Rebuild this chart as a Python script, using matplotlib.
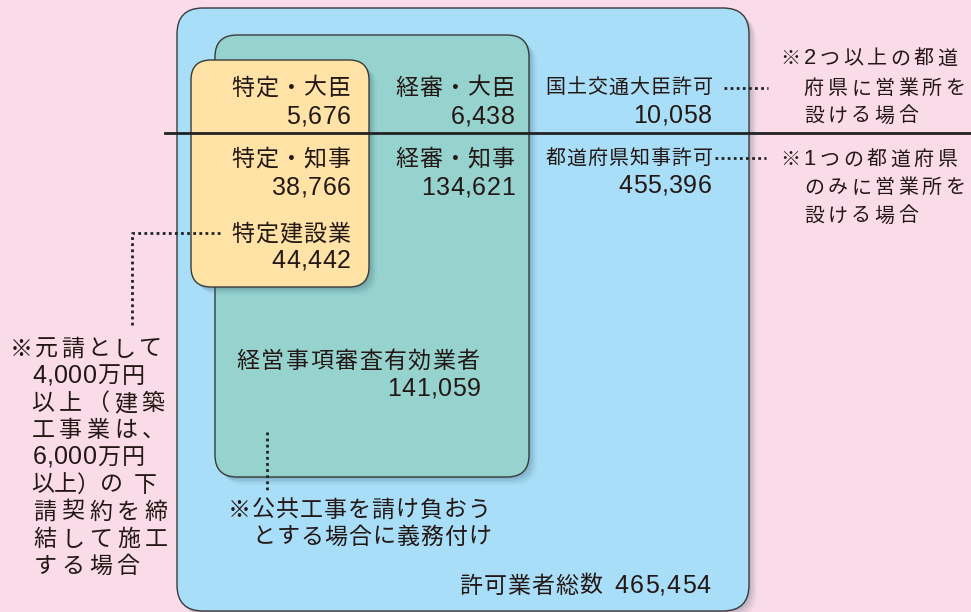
import matplotlib
matplotlib.use("Agg")
import matplotlib.pyplot as plt
from matplotlib.patches import FancyBboxPatch

# counts (upper row = minister permit, lower row = governor permit)
toku_labels = ["特定・大臣", "特定・知事", "特定建設業"]
toku_values = [5676, 38766, 44442]
keishin_labels = ["経審・大臣", "経審・知事", "経営事項審査有効業者"]
keishin_values = [6438, 134621, 141059]
kyoka_labels = ["国土交通大臣許可", "都道府県知事許可", "許可業者総数"]
kyoka_values = [10058, 455396, 465454]

note_upper = ["※2つ以上の都道", "府県に営業所を", "設ける場合"]
note_lower = ["※1つの都道府県", "のみに営業所を", "設ける場合"]
note_left = ["※元請として", "4,000万円", "以上（建築", "工事業は、", "6,000万円",
             "以上）の 下", "請契約を締", "結して施工", "する場合"]
note_bottom = ["※公共工事を請け負おう", "とする場合に義務付け"]

PINK = "#FADCE8"
BLUE = "#A9DEF8"
TEAL = "#96D3CF"
YELLOW = "#FFE2A6"
EDGE = "#3a3a3a"
TXT = "#231815"
CJK = "Noto Sans CJK JP"
NUM = "Liberation Sans"

fig = plt.figure(figsize=(9.71, 6.12), dpi=100)
fig.patch.set_facecolor(PINK)
ax = fig.add_axes([0, 0, 1, 1])
ax.set_xlim(0, 971)
ax.set_ylim(612, 0)
ax.axis('off')


def box(x0, y0, x1, y1, color, r, z):
    # soft shadow then box
    for d, a in [(2, 0.10), (4, 0.09), (6, 0.07), (8, 0.04)]:
        sh = FancyBboxPatch((x0 + r + d, y0 + r + d), (x1 - x0) - 2 * r, (y1 - y0) - 2 * r,
                            boxstyle="round,pad=%d" % r, fc="#24465e", ec="none",
                            alpha=a, zorder=z - 0.5)
        ax.add_patch(sh)
    p = FancyBboxPatch((x0 + r, y0 + r), (x1 - x0) - 2 * r, (y1 - y0) - 2 * r,
                       boxstyle="round,pad=%d" % r, fc=color, ec=EDGE, lw=1.0, zorder=z)
    ax.add_patch(p)


box(177, 8, 749, 611, BLUE, 26, 1)
box(215, 35, 529, 477, TEAL, 22, 2)
box(191, 60, 369, 287, YELLOW, 20, 3)

# dividing line between minister / governor permits
ax.plot([165, 971], [133, 133], color="#222222", lw=2, zorder=5)


def put(s, x, y, em=23, pitch=24, ha='left', x_end=None, space=None, dcell=14.5, dem=25):
    # draws text char by char so the spacing can follow the original typesetting
    if space is None:
        space = 0.3 * em
    w = []
    for c in s:
        if c.isdigit():
            w.append(dcell)
        elif c == ',':
            w.append(7)
        elif c == ' ':
            w.append(space)
        else:
            w.append(pitch)
    extra = 0
    if x_end is not None and len(s) > 1:
        extra = ((x_end - x) - sum(w)) / (len(s) - 1)
    total = sum(w) + extra * (len(s) - 1)
    pos = x - total if ha == 'right' else x
    for c, cw in zip(s, w):
        if c != ' ':
            isnum = c.isdigit() or c == ','
            fs = (dem if isnum else em) * 0.72
            ax.text(pos + cw / 2, y + 0.37 * em, c, ha='center', va='baseline',
                    fontsize=fs, family=NUM if isnum else CJK, color=TXT, zorder=6)
        pos += cw + extra


def fmt(v):
    return "{:,}".format(v)


# yellow / teal columns
lab_y = [86, 157, 232]
val_y = [115, 186, 259]
for i in range(3):
    put(toku_labels[i], 351, lab_y[i], ha='right')
    put(fmt(toku_values[i]), 351, val_y[i], ha='right')
for i in range(2):
    put(keishin_labels[i], 515, lab_y[i], ha='right')
    put(fmt(keishin_values[i]), 515, val_y[i], ha='right')

# permit column (smaller type)
kyoka_lab_y = [86, 157]
kyoka_val_y = [114, 184]
for i in range(2):
    put(kyoka_labels[i], 713, kyoka_lab_y[i], em=20, pitch=21, ha='right')
    put(fmt(kyoka_values[i]), 712, kyoka_val_y[i], ha='right')

put(keishin_labels[2], 236, 359, pitch=24.4)
put(fmt(keishin_values[2]), 481, 387, ha='right')
put(kyoka_labels[2] + " " + fmt(kyoka_values[2]), 711, 584, ha='right', space=11, dcell=15)

# dotted leaders
dot = dict(color="#222222", lw=2, ls=(0, (1, 1.2)), zorder=6)
ax.plot([724, 768], [88, 88], **dot)
ax.plot([715, 766], [158, 158], **dot)
ax.plot([220, 132, 132], [233, 233, 327], **dot)
ax.plot([267, 267], [432, 490], **dot)

# notes on the right
up_y = [57, 87, 114]
low_y = [158, 186, 214]
for j in range(3):
    put(note_upper[j], 778 if j == 0 else 802, up_y[j], em=20, pitch=23.6, dcell=16, dem=22)
    put(note_lower[j], 778 if j == 0 else 802, low_y[j], em=20, pitch=23.6, dcell=16, dem=22)

# note on the left (justified lines)
left_x = [(9, 162), (32, None), (31, 165), (31, 165), (32, None),
          (31, None), (33, 168), (33, 168), (33, 140)]
for j, s in enumerate(note_left):
    x0, x1 = left_x[j]
    yy = 347 + 27.2 * j
    if s == "以上）の 下":
        put(s, x0, yy, pitch=23, space=11)
    else:
        put(s, x0, yy, x_end=x1)

# note under the teal box
put(note_bottom[0], 227, 508)
put(note_bottom[1], 252, 535)

fig.savefig("out.png", dpi=100, facecolor=PINK)
